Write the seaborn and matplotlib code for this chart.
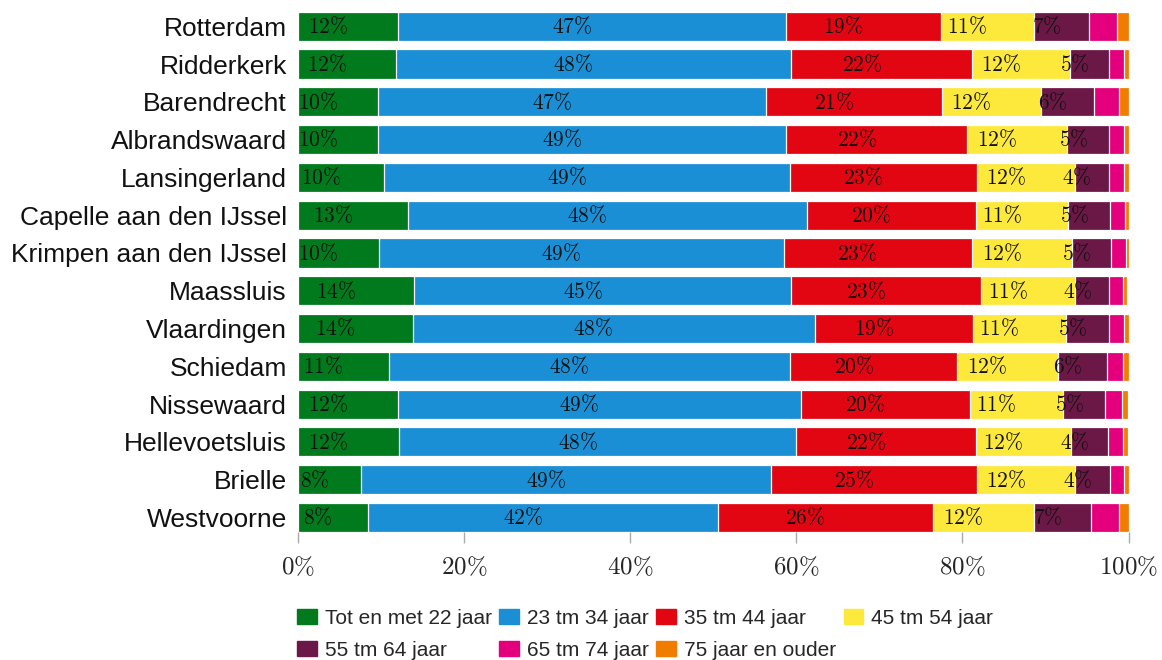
import numpy as np
import pandas as pd
import matplotlib
matplotlib.use("Agg")
import matplotlib.pyplot as plt
import matplotlib.patches as mpatches
import seaborn as sns

gemeenten = ["Rotterdam", "Ridderkerk", "Barendrecht", "Albrandswaard", "Lansingerland",
             "Capelle aan den IJssel", "Krimpen aan den IJssel", "Maassluis", "Vlaardingen",
             "Schiedam", "Nissewaard", "Hellevoetsluis", "Brielle", "Westvoorne"]

groepen = ["Tot en met 22 jaar", "23 tm 34 jaar", "35 tm 44 jaar", "45 tm 54 jaar",
           "55 tm 64 jaar", "65 tm 74 jaar", "75 jaar en ouder"]

tot22 = [12.1, 11.8, 9.6, 9.6, 10.4, 13.3, 9.7, 14.0, 13.8, 10.9, 12.0, 12.2, 7.6, 8.4]
j23_34 = [46.6, 47.6, 46.8, 49.2, 48.8, 48.0, 48.8, 45.4, 48.4, 48.4, 48.6, 47.8, 49.4, 42.2]
j35_44 = [18.7, 21.8, 21.1, 21.8, 22.6, 20.3, 22.6, 22.8, 19.1, 20.1, 20.3, 21.6, 24.8, 25.8]
j45_54 = [11.2, 11.8, 12.0, 12.0, 11.7, 11.1, 12.1, 11.4, 11.2, 12.1, 11.2, 11.5, 11.8, 12.2]
j55_64 = [6.7, 4.7, 6.4, 5.1, 4.1, 5.1, 4.7, 4.1, 5.1, 5.9, 5.1, 4.4, 4.2, 6.9]
j65_74 = [3.3, 1.8, 3.0, 1.8, 1.9, 1.8, 1.8, 1.6, 1.8, 1.9, 2.0, 1.8, 1.7, 3.4]
j75 = [1.4, 0.5, 1.1, 0.5, 0.5, 0.4, 0.4, 0.5, 0.6, 0.7, 0.7, 0.6, 0.5, 1.1]

kleuren = ["#007a1c", "#1a8fd5", "#e20613", "#fde93c", "#6c1846", "#e4007d", "#f07d00"]

series = [tot22, j23_34, j35_44, j45_54, j55_64, j65_74, j75]
df = pd.DataFrame(dict(zip(groepen, series)), index=gemeenten)
cum = df.cumsum(axis=1)

sns.set_style("white")
plt.rcParams["mathtext.fontset"] = "cm"
plt.rcParams["font.family"] = ["Liberation Sans", "DejaVu Sans"]

fig = plt.figure(figsize=(11.62, 6.6), dpi=100)
ax = fig.add_axes([298 / 1162, 1 - 532 / 660, 830.5 / 1162, 520.3 / 660])

# stacked bars: draw cumulative totals from the last group backwards
for g, c in zip(groepen[::-1], kleuren[::-1]):
    sns.barplot(x=cum[g].values, y=gemeenten, orient="h", color=c, width=0.77,
                saturation=1, edgecolor="white", linewidth=0.9, ax=ax)

# percentage labels for the first five groups
for i, g in enumerate(groepen[:5]):
    start = cum[g] - df[g]
    for j, gem in enumerate(gemeenten):
        mid = start.iloc[j] + df[g].iloc[j] / 2
        ax.text(mid, j + 0.03, r"$%d\%%$" % round(df[g].iloc[j]), ha="right", va="center",
                fontsize=15.5, color="#111111")

ax.set_xlim(0, 100)
ax.set_ylim(13.385, -0.385)
ax.set_xticks([0, 20, 40, 60, 80, 100])
ax.set_xticklabels([r"$%d\%%$" % v for v in [0, 20, 40, 60, 80, 100]])
ax.tick_params(axis="x", length=8, color="#aaaaaa", width=1, pad=9, labelsize=18)
ax.tick_params(axis="y", length=0, pad=8, labelsize=19, labelcolor="#111111")
ax.set_xlabel("")
ax.set_ylabel("")
sns.despine(ax=ax, left=True, bottom=True)
ax.xaxis.set_ticks_position("bottom")

handles = [mpatches.Patch(color=c, label=g) for g, c in zip(groepen, kleuren)]
volgorde = [0, 4, 1, 5, 2, 6, 3]
fig.legend([handles[k] for k in volgorde], [groepen[k] for k in volgorde],
           loc="upper left", bbox_to_anchor=(297 / 1162, 1 - 609 / 660), ncol=4,
           frameon=False, fontsize=15, borderpad=0, borderaxespad=0,
           handlelength=0.95, handleheight=0.71, handletextpad=0.38,
           columnspacing=0.36, labelspacing=0.62)

fig.savefig("out.png", dpi=100)
